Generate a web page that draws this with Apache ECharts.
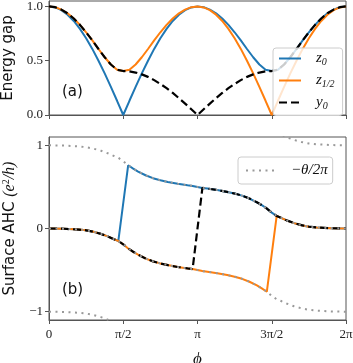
<!DOCTYPE html>
<html>
<head>
<meta charset="utf-8">
<script src="https://cdn.jsdelivr.net/npm/echarts@6/dist/echarts.min.js"></script>
<style>
  html, body { margin: 0; padding: 0; background: #fff; }
  #main { width: 353px; height: 363px; }
</style>
</head>
<body>
<div id="main"></div>
<script>
// phi in units of pi
var phiT = [0, 0.0417, 0.0833, 0.125, 0.1667, 0.2083, 0.25, 0.2917, 0.3333, 0.375, 0.4167, 0.4583, 0.5,
    0.5417, 0.5833, 0.625, 0.6667, 0.7083, 0.75, 0.7917, 0.8333, 0.875, 0.9167, 0.9583, 1,
    1.0417, 1.0833, 1.125, 1.1667, 1.2083, 1.25, 1.2917, 1.3333, 1.375, 1.4167, 1.4583, 1.5,
    1.5417, 1.5833, 1.625, 1.6667, 1.7083, 1.75, 1.7917, 1.8333, 1.875, 1.9167, 1.9583, 2];

// energy gap (a)
var gapZ0 = [1, .991, .966, .924, .866, .793, .707, .609, .5, .383, .259, .131, 0,
    .131, .259, .383, .5, .609, .707, .793, .866, .924, .966, .991, 1,
    .993, .971, .937, .889, .830, .762, .687, .608, .532, .465, .417, .405,
    .417, .465, .532, .608, .687, .762, .830, .889, .937, .971, .993, 1];
var gapZ12 = [1, .993, .971, .937, .889, .830, .762, .687, .608, .532, .465, .417, .405,
    .417, .465, .532, .608, .687, .762, .830, .889, .937, .971, .993, 1,
    .991, .966, .924, .866, .793, .707, .609, .5, .383, .259, .131, 0,
    .131, .259, .383, .5, .609, .707, .793, .866, .924, .966, .991, 1];
var gapY0 = [1, .993, .971, .937, .889, .830, .762, .687, .608, .532, .465, .417, .405,
    .402, .391, .374, .351, .321, .286, .247, .203, .155, .105, .053, 0,
    .053, .105, .155, .203, .247, .286, .321, .351, .374, .391, .402, .405,
    .417, .465, .532, .608, .687, .762, .830, .889, .937, .971, .993, 1];

// surface AHC (b)
var phiB = [0, 0.1, 0.2, 0.25, 0.3, 0.35, 0.4, 0.433, 0.467, 0.5, 0.533, 0.567, 0.6, 0.65, 0.7, 0.75, 0.8,
    0.867, 0.933, 0.967, 1, 1.033, 1.067, 1.133, 1.2, 1.25, 1.3, 1.35, 1.4, 1.433, 1.467, 1.5,
    1.533, 1.567, 1.6, 1.65, 1.7, 1.75, 1.8, 1.9, 2];
var ahcZ0 = [0, -0.003, -0.013, -0.022, -0.04, -0.065, -0.098, -0.125, -0.15, null,
    0.76, 0.72, 0.685, 0.64, 0.605, 0.58, 0.56, 0.537, 0.52, 0.512, 0.5, 0.488, 0.48, 0.463, 0.44,
    0.42, 0.395, 0.36, 0.315, 0.28, 0.24, 0.19, 0.15, 0.125, 0.098, 0.065, 0.04, 0.022, 0.013, 0.003, 0];
var ahcZ12 = [0, -0.003, -0.013, -0.022, -0.04, -0.065, -0.098, -0.125, -0.15, -0.19, -0.24, -0.28,
    -0.315, -0.36, -0.395, -0.42, -0.44, -0.463, -0.48, -0.488, -0.5, -0.512, -0.52, -0.537, -0.56,
    -0.58, -0.605, -0.64, -0.685, -0.72, -0.76, null,
    0.15, 0.125, 0.098, 0.065, 0.04, 0.022, 0.013, 0.003, 0];
var ahcY0 = [0, -0.003, -0.013, -0.022, -0.04, -0.065, -0.098, -0.125, -0.15, -0.19, -0.24, -0.28,
    -0.315, -0.36, -0.395, -0.42, -0.44, -0.463, -0.48, -0.488, null,
    0.488, 0.48, 0.463, 0.44, 0.42, 0.395, 0.36, 0.315, 0.28, 0.24, 0.19, 0.15, 0.125, 0.098,
    0.065, 0.04, 0.022, 0.013, 0.003, 0];
// -theta/2pi, several branches
var thetaLow = [-1, -1.003, -1.013, -1.022, -1.04, -1.065, -1.098, -1.125, -1.15, -1.19, -1.24, -1.28, -1.315];
var thetaMid = [0, -0.003, -0.013, -0.022, -0.04, -0.065, -0.098, -0.125, -0.15, -0.19, -0.24, -0.28,
    -0.315, -0.36, -0.395, -0.42, -0.44, -0.463, -0.48, -0.488, -0.5, -0.512, -0.52, -0.537, -0.56,
    -0.58, -0.605, -0.64, -0.685, -0.72, -0.76, -0.81, -0.85, -0.875, -0.902, -0.935, -0.96,
    -0.978, -0.987, -0.997, -1];
var thetaHigh = [1, 0.997, 0.987, 0.978, 0.96, 0.935, 0.902, 0.875, 0.85, 0.81, 0.76, 0.72, 0.685,
    0.64, 0.605, 0.58, 0.56, 0.537, 0.52, 0.512, 0.5, 0.488, 0.48, 0.463, 0.44, 0.42, 0.395, 0.36,
    0.315, 0.28, 0.24, 0.19, 0.15, 0.125, 0.098, 0.065, 0.04, 0.022, 0.013, 0.003, 0];
var thetaTop = [null, null, null, null, null, null, null, null, null, null, null, null, null, null,
    null, null, null, null, null, null, null, null, null, null, null, null, null,
    1.36, 1.315, 1.28, 1.24, 1.19, 1.15, 1.125, 1.098, 1.065, 1.04, 1.022, 1.013, 1.003, 1];

var xTicks = {0: '0', 0.5: 'π/2', 1: 'π', 1.5: '3π/2', 2: '2π'};

function pairs(xs, ys) {
    var out = [];
    for (var i = 0; i < ys.length; i++) out.push([xs[i], ys[i]]);
    return out;
}

var frame = '#555';
var serif = 'Liberation Serif';
var sans = 'DejaVu Sans';
var blue = '#1f77b4', orange = '#ff7f0e', grey = '#999';
var dashed = [8, 4], dotted = [2, 4.5];

var myChart = echarts.init(document.getElementById('main'));

function xAxisCfg(idx, showLabel) {
    return {
        type: 'value', gridIndex: idx, min: 0, max: 2, interval: 0.5,
        name: showLabel ? 'ϕ' : '', nameLocation: 'middle', nameGap: 31,
        nameTextStyle: {fontFamily: serif, fontStyle: 'italic', fontSize: 17, color: '#111'},
        axisLine: {show: true, onZero: false, lineStyle: {color: frame, width: 1}},
        axisTick: {show: true, inside: false, length: 4, lineStyle: {color: frame}},
        axisLabel: {show: showLabel, margin: 8, fontFamily: serif, fontSize: 13, color: '#222',
            formatter: function (v) { return xTicks[v] !== undefined ? xTicks[v] : ''; }},
        splitLine: {show: false}
    };
}

var option = {
    animation: false,
    grid: [
        {left: 49, right: 7, top: 1, height: 114, show: true, borderColor: frame, borderWidth: 1,
            outerBoundsMode: 'none', containLabel: false},
        {left: 49, right: 7, top: 137, height: 183, show: true, borderColor: frame, borderWidth: 1,
            outerBoundsMode: 'none', containLabel: false}
    ],
    xAxis: [xAxisCfg(0, false), xAxisCfg(1, true)],
    yAxis: [
        {
            type: 'value', gridIndex: 0, min: 0, max: 1.05,
            name: 'Energy gap', nameLocation: 'middle', nameGap: 32, nameRotate: 90,
            nameTextStyle: {fontFamily: sans, fontSize: 15, color: '#111'},
            axisLine: {show: true, lineStyle: {color: frame}},
            axisTick: {show: true, length: 4, customValues: [0, 0.5, 1], lineStyle: {color: frame}},
            axisLabel: {margin: 6, customValues: [0, 0.5, 1], fontFamily: serif, fontSize: 13, color: '#222',
                formatter: function (v) { return v.toFixed(1); }},
            splitLine: {show: false}
        },
        {
            type: 'value', gridIndex: 1, min: -1.1, max: 1.1,
            name: '{a|Surface AHC }{b|(e}{c|2}{b|/h)}', nameLocation: 'middle', nameGap: 30, nameRotate: 90,
            nameTextStyle: {color: '#111', rich: {
                a: {fontFamily: sans, fontSize: 15, color: '#111'},
                b: {fontFamily: serif, fontStyle: 'italic', fontSize: 16, color: '#111'},
                c: {fontFamily: serif, fontSize: 10, color: '#111', padding: [0, 0, 8, 0]}
            }},
            axisLine: {show: true, lineStyle: {color: frame}},
            axisTick: {show: true, length: 4, customValues: [-1, 0, 1], lineStyle: {color: frame}},
            axisLabel: {margin: 6, customValues: [-1, 0, 1], fontFamily: serif, fontSize: 13, color: '#222',
                formatter: function (v) { return v < 0 ? '\u22121' : String(v); }},
            splitLine: {show: false}
        }
    ],
    legend: [
        {
            data: ['z0', 'z1/2', 'y0'], orient: 'vertical', left: 273, top: 48,
            itemWidth: 22, itemHeight: 14, itemGap: 5.5, padding: [3, 8, 4, 5],
            itemStyle: {opacity: 0},
            backgroundColor: 'rgba(255,255,255,0.8)', borderColor: '#ccc', borderWidth: 1, borderRadius: 3,
            formatter: function (name) {
                if (name === 'z0') return '{i|z}{s|0}';
                if (name === 'z1/2') return '{i|z}{s|1/2}';
                return '{i|y}{s|0}';
            },
            textStyle: {rich: {
                i: {fontFamily: serif, fontStyle: 'italic', fontSize: 15, color: '#111', padding: [0, 0, 0, 10]},
                s: {fontFamily: serif, fontStyle: 'italic', fontSize: 10, color: '#111', padding: [8, 0, 0, 0]}
            }}
        },
        {
            data: ['-θ/2π'], left: 238, top: 157,
            itemWidth: 32, itemHeight: 14, padding: [6, 5, 6, 7],
            itemStyle: {opacity: 0},
            backgroundColor: 'rgba(255,255,255,0.8)', borderColor: '#ccc', borderWidth: 1, borderRadius: 3,
            formatter: function () { return '{i|\u2212θ/2π}'; },
            textStyle: {rich: {
                i: {fontFamily: serif, fontStyle: 'italic', fontSize: 15, color: '#111', padding: [0, 0, 0, 8]}
            }}
        }
    ],
    graphic: [
        {type: 'text', left: 62, top: 85, style: {text: '(a)', font: '15px "DejaVu Sans"', fill: '#111'}},
        {type: 'text', left: 62, top: 283, style: {text: '(b)', font: '15px "DejaVu Sans"', fill: '#111'}}
    ],
    series: [
        {name: 'z0', type: 'line', xAxisIndex: 0, yAxisIndex: 0, symbol: 'none',
            lineStyle: {color: blue, width: 2}, itemStyle: {color: blue}, data: pairs(phiT, gapZ0)},
        {name: 'z1/2', type: 'line', xAxisIndex: 0, yAxisIndex: 0, symbol: 'none',
            lineStyle: {color: orange, width: 2}, itemStyle: {color: orange}, data: pairs(phiT, gapZ12)},
        {name: 'y0', type: 'line', xAxisIndex: 0, yAxisIndex: 0, symbol: 'none',
            lineStyle: {color: '#000', width: 2.2, type: dashed}, itemStyle: {color: '#000'}, data: pairs(phiT, gapY0)},

        {name: 'z0', type: 'line', xAxisIndex: 1, yAxisIndex: 1, symbol: 'none', connectNulls: true,
            lineStyle: {color: blue, width: 2}, itemStyle: {color: blue}, data: pairs(phiB, ahcZ0)},
        {name: 'z1/2', type: 'line', xAxisIndex: 1, yAxisIndex: 1, symbol: 'none', connectNulls: true,
            lineStyle: {color: orange, width: 2}, itemStyle: {color: orange}, data: pairs(phiB, ahcZ12)},
        {name: 'y0', type: 'line', xAxisIndex: 1, yAxisIndex: 1, symbol: 'none', connectNulls: true,
            lineStyle: {color: '#000', width: 2.2, type: dashed}, itemStyle: {color: '#000'}, data: pairs(phiB, ahcY0)},
        {name: '-θ/2π', type: 'line', xAxisIndex: 1, yAxisIndex: 1, symbol: 'none',
            lineStyle: {color: grey, width: 2, type: dotted}, itemStyle: {color: grey}, data: pairs(phiB, thetaLow)},
        {name: '-θ/2π', type: 'line', xAxisIndex: 1, yAxisIndex: 1, symbol: 'none',
            lineStyle: {color: grey, width: 2, type: dotted}, itemStyle: {color: grey}, data: pairs(phiB, thetaMid)},
        {name: '-θ/2π', type: 'line', xAxisIndex: 1, yAxisIndex: 1, symbol: 'none',
            lineStyle: {color: grey, width: 2, type: dotted}, itemStyle: {color: grey}, data: pairs(phiB, thetaHigh)},
        {name: '-θ/2π', type: 'line', xAxisIndex: 1, yAxisIndex: 1, symbol: 'none',
            lineStyle: {color: grey, width: 2, type: dotted}, itemStyle: {color: grey}, data: pairs(phiB, thetaTop)}
    ]
};
myChart.setOption(option);
</script>
</body>
</html>
